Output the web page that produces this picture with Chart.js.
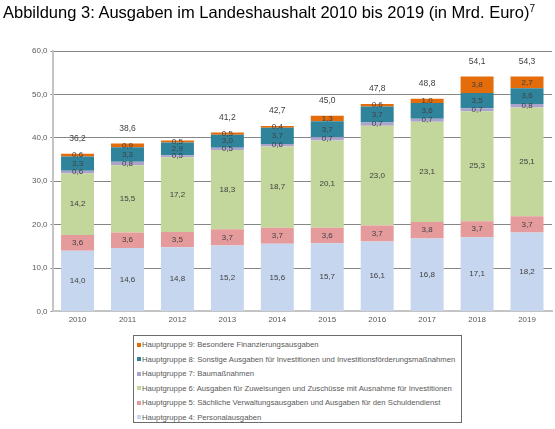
<!DOCTYPE html>
<html>
<head>
<meta charset="utf-8">
<script src="https://cdn.jsdelivr.net/npm/chart.js@4"></script>
<style>
  body { margin: 0; background: #fff; font-family: 'Liberation Sans', Arial, sans-serif; }
  #wrap { position: relative; width: 555px; height: 429px; }
  #title { position: absolute; left: 3px; top: 3px; font-size: 16.5px; color: #000; white-space: nowrap; }
  #title sup { font-size: 10px; vertical-align: 6px; line-height: 0; }
  #chartBox { position: absolute; left: 0; top: 0; width: 555px; height: 329px; }
  #legend { position: absolute; left: 133px; top: 335px; width: 329px; height: 88px;
    border: 1px solid #6b6b6b; box-sizing: border-box; padding: 2px 0 0 3px; }
  .item { height: 14.5px; line-height: 14.5px; font-size: 7.7px; color: #595959; white-space: nowrap; }
  .item span.mk { display: inline-block; width: 4px; height: 4px; margin-right: 1px; vertical-align: middle; }
</style>
</head>
<body>
<div id="wrap">
  <div id="chartBox"><canvas id="myChart"></canvas></div>
  <div id="title">Abbildung 3: Ausgaben im Landeshaushalt 2010 bis 2019 (in Mrd. Euro)<sup>7</sup></div>
  <div id="legend"></div>
</div>
<script>
const years = ['2010', '2011', '2012', '2013', '2014', '2015', '2016', '2017', '2018', '2019']

// Hauptgruppen, in Mrd. Euro
const hg4 = [14.0, 14.6, 14.8, 15.2, 15.6, 15.7, 16.1, 16.8, 17.1, 18.2]
const hg5 = [3.6, 3.6, 3.5, 3.7, 3.7, 3.6, 3.7, 3.8, 3.7, 3.7]
const hg6 = [14.2, 15.5, 17.2, 18.3, 18.7, 20.1, 23.0, 23.1, 25.3, 25.1]
const hg7 = [0.6, 0.8, 0.5, 0.5, 0.6, 0.7, 0.7, 0.7, 0.7, 0.8]
const hg8 = [3.3, 3.3, 2.9, 3.0, 3.7, 3.7, 3.7, 3.6, 3.5, 3.6]
const hg9 = [0.6, 0.9, 0.5, 0.5, 0.4, 1.3, 0.6, 1.0, 3.8, 2.7]
// printed totals (2012 has none in the original)
const totals = [36.2, 38.6, null, 41.2, 42.7, 45.0, 47.8, 48.8, 54.1, 54.3]

const yTicks = [0, 10, 20, 30, 40, 50, 60]

const fmt = (v) => v.toFixed(1).replace('.', ',')

const data = {
  labels: years,
  datasets: [
    { label: 'Hauptgruppe 4: Personalausgaben', data: hg4, backgroundColor: '#c6d6ee' },
    { label: 'Hauptgruppe 5: Sächliche Verwaltungsausgaben und Ausgaben für den Schuldendienst', data: hg5, backgroundColor: '#e59b9c' },
    { label: 'Hauptgruppe 6: Ausgaben für Zuweisungen und Zuschüsse mit Ausnahme für Investitionen', data: hg6, backgroundColor: '#c3d69b' },
    { label: 'Hauptgruppe 7: Baumaßnahmen', data: hg7, backgroundColor: '#aba3cc' },
    { label: 'Hauptgruppe 8: Sonstige Ausgaben für Investitionen und Investitionsförderungsmaßnahmen', data: hg8, backgroundColor: '#2f849c' },
    { label: 'Hauptgruppe 9: Besondere Finanzierungsausgaben', data: hg9, backgroundColor: '#e46c0a' },
  ],
}

// values inside segments + totals above the stacks
const labelPlugin = {
  id: 'labels',
  afterDatasetsDraw(chart) {
    const ctx = chart.ctx
    ctx.save()
    ctx.font = '8px "Liberation Sans", Arial, sans-serif'
    ctx.fillStyle = '#404040'
    ctx.textAlign = 'center'
    ctx.textBaseline = 'middle'
    chart.data.datasets.forEach((ds, i) => {
      chart.getDatasetMeta(i).data.forEach((bar, j) => {
        const y = (bar.y + bar.base) / 2
        ctx.fillText(fmt(ds.data[j]), bar.x, y)
      })
    })
    ctx.font = '8.5px "Liberation Sans", Arial, sans-serif'
    const top = chart.getDatasetMeta(chart.data.datasets.length - 1).data
    totals.forEach((t, j) => {
      if (t === null) return
      ctx.fillText(fmt(t), top[j].x, top[j].y - 15)
    })
    ctx.restore()
  },
}

const config = {
  type: 'bar',
  data: data,
  options: {
    responsive: true,
    maintainAspectRatio: false,
    animation: false,
    layout: { padding: { left: 29, right: 3, top: 51, bottom: 0 } },
    datasets: { bar: { barPercentage: 0.66, categoryPercentage: 1 } },
    plugins: {
      legend: { display: false },
      tooltip: { enabled: false },
      title: { display: false },
    },
    scales: {
      x: {
        stacked: true,
        grid: { display: false, drawTicks: false },
        border: { color: '#c4c4c4', width: 2 },
        ticks: { color: '#595959', font: { size: 8, family: '"Liberation Sans", Arial' }, padding: 4 },
      },
      y: {
        stacked: true,
        min: 0,
        max: 60,
        afterBuildTicks: (axis) => { axis.ticks = yTicks.map((v) => ({ value: v })) },
        grid: { color: '#868686', tickLength: 2 },
        border: { color: '#c4c4c4', width: 2 },
        ticks: {
          color: '#595959',
          font: { size: 8, family: '"Liberation Sans", Arial' },
          padding: 3,
          callback: (v) => fmt(v),
        },
      },
    },
  },
  plugins: [labelPlugin],
}

const myChart = new Chart(document.getElementById('myChart'), config)

// legend, one entry per line, top group first
const legend = document.getElementById('legend')
data.datasets.slice().reverse().forEach((ds) => {
  const row = document.createElement('div')
  row.className = 'item'
  const mk = document.createElement('span')
  mk.className = 'mk'
  mk.style.background = ds.backgroundColor
  row.appendChild(mk)
  row.appendChild(document.createTextNode(ds.label))
  legend.appendChild(row)
})
</script>
</body>
</html>
